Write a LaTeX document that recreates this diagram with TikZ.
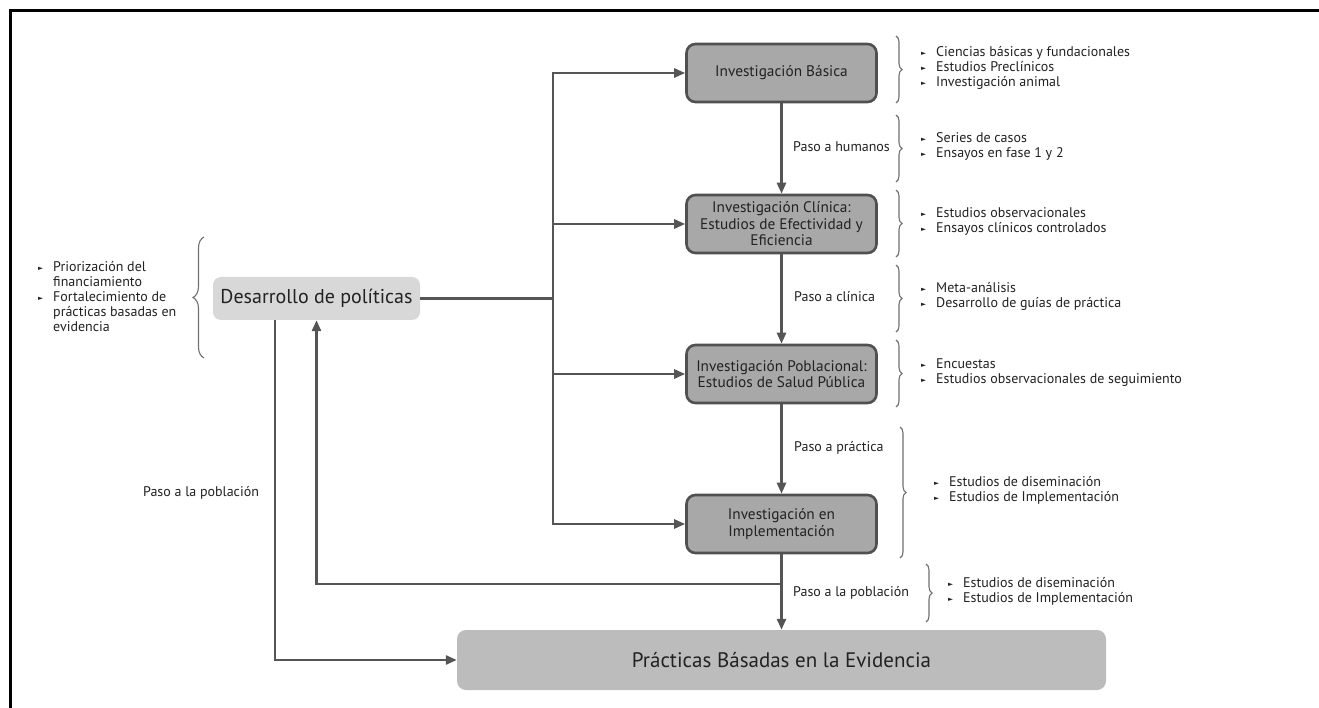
\documentclass[tikz,border=0pt]{standalone}
\usepackage{fontspec}
\setmainfont{PT Sans}
\newfontfamily\symfont{DejaVu Sans}
\usetikzlibrary{arrows.meta,decorations.pathreplacing}
\definecolor{linec}{HTML}{555555}
\definecolor{boxline}{HTML}{505050}
\definecolor{boxfill}{HTML}{A8A8A8}
\definecolor{desfill}{HTML}{D8D8D8}
\definecolor{pracfill}{HTML}{BCBCBC}
\definecolor{txt}{HTML}{222222}
\definecolor{bracec}{HTML}{707070}
\newcommand{\bl}{\makebox[15pt][l]{\raisebox{1pt}{\symfont\fontsize{6.5}{6.5}\selectfont ►}}}
\newcommand{\ind}{\hspace*{15pt}}
\begin{document}
\begin{tikzpicture}[x=1pt,y=-1pt,
  conn/.style={draw=linec, line width=2.6pt},
  arr/.style={conn, -{Triangle[length=11pt,width=9pt]}},
  stage/.style={draw=boxline, line width=2.6pt, fill=boxfill, rounded corners=9pt,
    minimum width=190pt, minimum height=58pt, align=center, inner sep=0pt,
    font=\fontsize{15.3}{16.5}\selectfont, text=txt},
  lst/.style={anchor=west, inner sep=0pt, align=left, font=\fontsize{14}{15}\selectfont, text=txt},
  lbl/.style={anchor=west, inner sep=0pt, font=\fontsize{14}{15}\selectfont, text=txt},
  brc/.style={draw=bracec, line width=1.1pt, decorate, decoration={brace, amplitude=6pt}},
  lbrc/.style={draw=bracec, line width=1.1pt, decorate, decoration={brace, amplitude=11pt}}
]
\useasboundingbox (0,0) rectangle (1319,708);
\fill[white] (0,0) rectangle (1319,708);
\draw[line width=3pt, black] (1319,11) -- (10,11) -- (10,708);

% nodes
\node[fill=desfill, rounded corners=8pt, minimum width=207pt, minimum height=43pt, inner sep=0pt,
  font=\fontsize{20}{22}\selectfont, text=txt] (des) at (316.5,298.5) {Desarrollo de políticas};
\node[stage] (bas) at (781.5,73) {Investigación Básica};
\node[stage] (cli) at (781.5,224) {Investigación Clínica:\\Estudios de Efectividad y\\Eficiencia};
\node[stage] (pob) at (781.5,374) {Investigación Poblacional:\\Estudios de Salud Pública};
\node[stage] (imp) at (781.5,524) {Investigación en\\Implementación};
\node[fill=pracfill, rounded corners=9pt, minimum width=649pt, minimum height=60pt, inner sep=0pt,
  font=\fontsize{21}{23}\selectfont, text=txt] (prac) at (781.5,660) {Prácticas Básadas en la Evidencia};

% trunk
\coordinate (ttop) at (553,73);
\coordinate (tbot) at (553,524);
\draw[conn, line cap=rect] (ttop) -- (tbot);
\draw[conn] (des.east) -- (des.east -| ttop);
\draw[arr] (bas.west -| ttop) -- (bas.west);
\draw[arr] (cli.west -| ttop) -- (cli.west);
\draw[arr] (pob.west -| ttop) -- (pob.west);
\draw[arr] (imp.west -| ttop) -- (imp.west);

% vertical chain
\draw[arr] (bas.south) -- (cli.north);
\draw[arr] (cli.south) -- (pob.north);
\draw[arr] (pob.south) -- (imp.north);
\draw[arr] (imp.south) -- (prac.north);

% feedback
\coordinate (fb) at (781.5,584);
\draw[arr] (fb) -| (des.south);
\draw[arr] ([xshift=-41.5pt]des.south) |- (prac.west);

% labels
\node[lbl] (l1) at (793,147) {Paso a humanos};
\node[lbl] (l2) at (794,297) {Paso a clínica};
\node[lbl] (l3) at (794,448) {Paso a práctica};
\node[lbl] (l4) at (793,593) {Paso a la población};
\node[lbl] (l5) at (143,493) {Paso a la población};

% braces
\draw[brc] (896,36) -- (896,103);
\draw[brc] (896,115) -- (896,182);
\draw[brc] (896,190) -- (896,257);
\draw[brc] (896,265) -- (896,332);
\draw[brc] (896,340) -- (896,407);
\draw[brc] (900,427) -- (900,558);
\draw[brc] (926,564) -- (926,622);
\draw[lbrc] (204,358) -- (204,237);

% lists
\node[lst] (b1) at (921,68) {\bl Ciencias básicas y fundacionales\\\bl Estudios Preclínicos\\\bl Investigación animal};
\node[lst] (b2) at (921,146) {\bl Series de casos\\\bl Ensayos en fase 1 y 2};
\node[lst] (b3) at (921,221.5) {\bl Estudios observacionales\\\bl Ensayos clínicos controlados};
\node[lst] (b4) at (921,296.5) {\bl Meta-análisis\\\bl Desarrollo de guías de práctica};
\node[lst] (b5) at (921,372.5) {\bl Encuestas\\\bl Estudios observacionales de seguimiento};
\node[lst] (b6) at (934,490.5) {\bl Estudios de diseminación\\\bl Estudios de Implementación};
\node[lst] (b7) at (948,591) {\bl Estudios de diseminación\\\bl Estudios de Implementación};
\node[lst] (b0) at (38,297) {\bl Priorización del\\\ind financiamiento\\\bl Fortalecimiento de\\\ind prácticas basadas en\\\ind evidencia};
\end{tikzpicture}
\end{document}
